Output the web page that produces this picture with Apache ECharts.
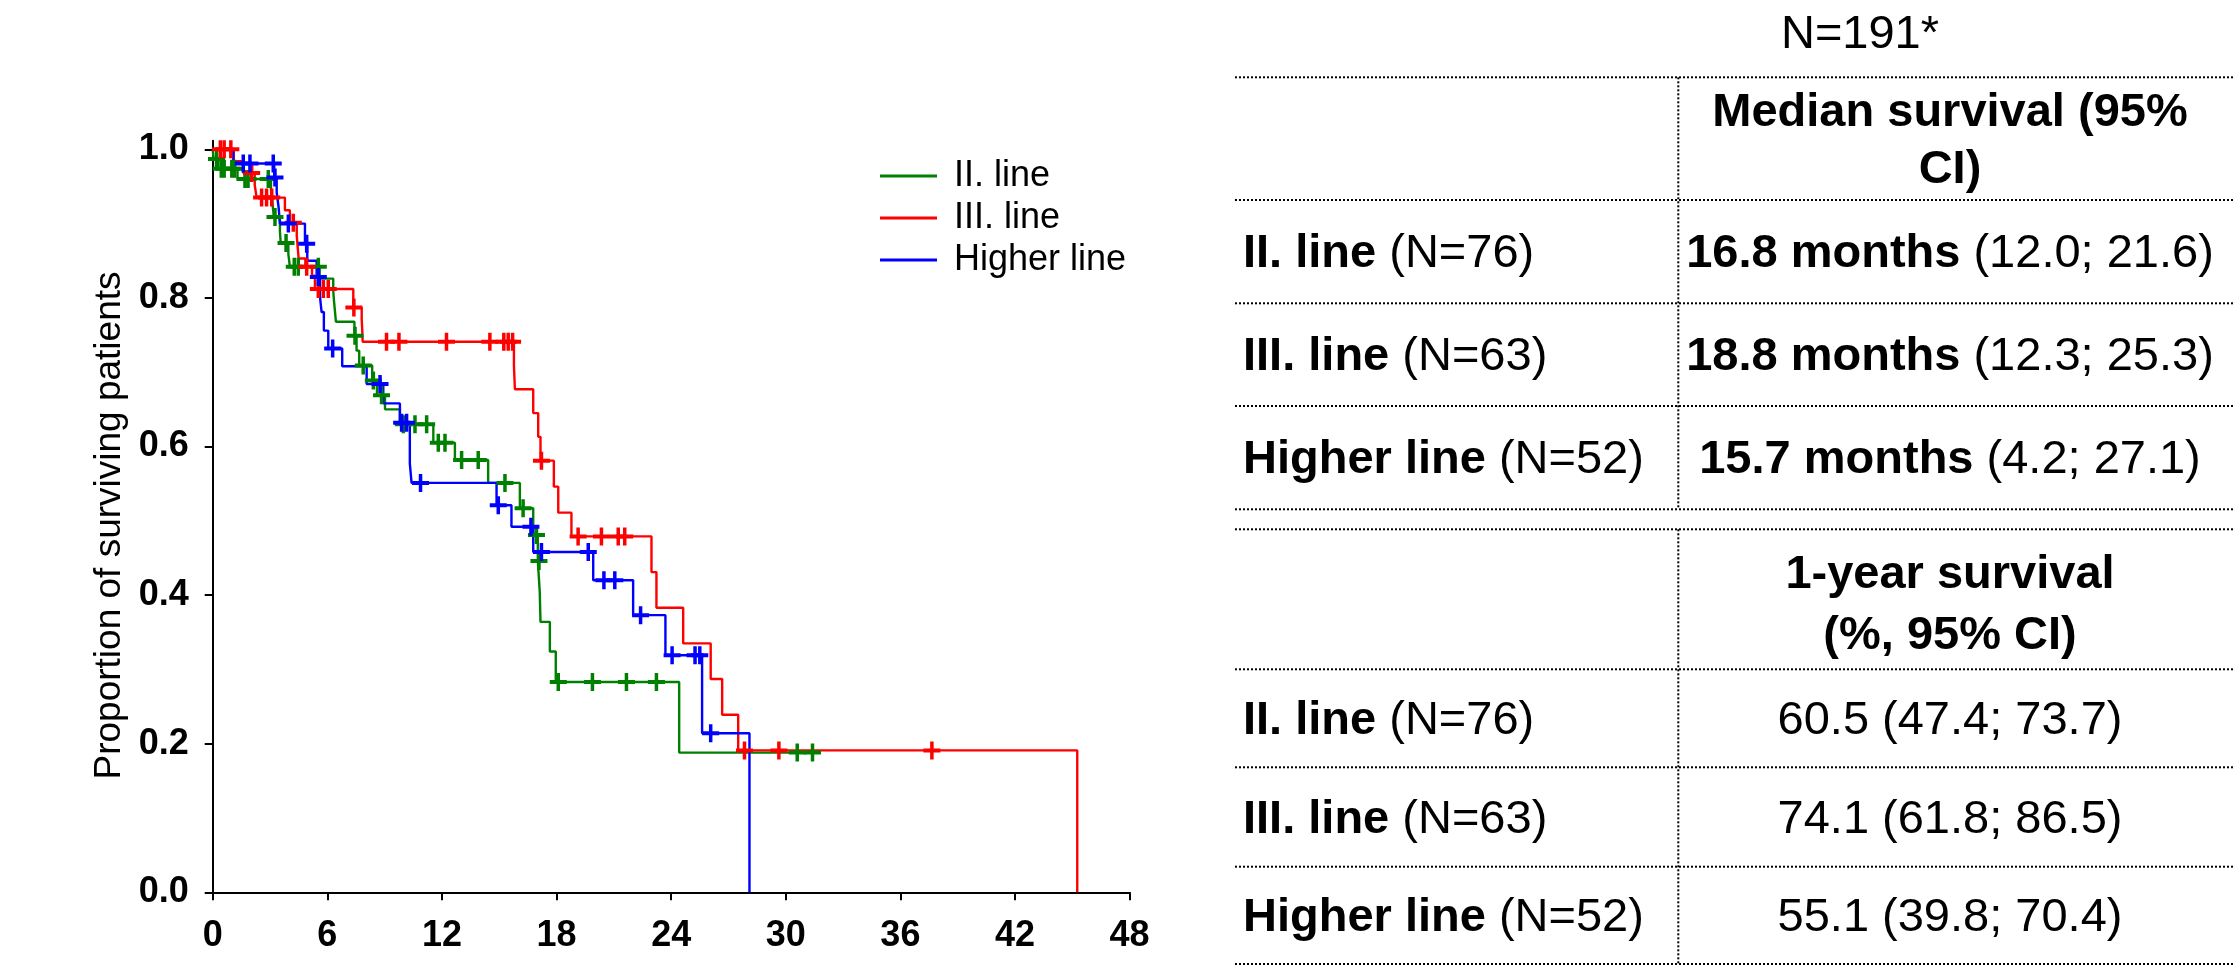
<!DOCTYPE html>
<html><head><meta charset="utf-8">
<script src="https://cdn.jsdelivr.net/npm/echarts@6/dist/echarts.min.js"></script>
<style>html,body{margin:0;padding:0;background:#fff}#c{width:2235px;height:980px}</style>
</head><body><div id="c"></div>
<script>
// ---------------- DATA ----------------
const seriesNames = ['II. line', 'III. line', 'Higher line'];
const yTickValues = [0, 0.2, 0.4, 0.6, 0.8, 1.0];

// Kaplan-Meier steps: [month, survival proportion from that month on]
const stepsII = [[0,1.0],[0.05,0.987],[0.3,0.974],[1.3,0.96],[3.05,0.946],[3.12,0.93],[3.2,0.909],[3.52,0.889],[3.56,0.874],[3.96,0.859],[4.04,0.842],[5.6,0.826],[6.31,0.81],[6.35,0.796],[6.4,0.782],[6.45,0.768],[7.42,0.749],[7.53,0.729],[7.67,0.709],[8.35,0.689],[8.6,0.669],[9.02,0.65],[9.8,0.63],[11.55,0.605],[12.68,0.582],[14.42,0.551],[16.08,0.517],[16.78,0.481],[17.02,0.446],[17.12,0.405],[17.16,0.364],[17.65,0.324],[17.96,0.283],[24.42,0.188],[31.7,0.188]];
const censII = [[0.2,0.987],[0.45,0.974],[0.6,0.974],[1.0,0.974],[1.15,0.974],[1.69,0.96],[1.85,0.96],[2.91,0.96],[3.26,0.909],[3.84,0.874],[4.27,0.842],[4.48,0.842],[5.53,0.842],[7.45,0.749],[7.88,0.709],[8.41,0.689],[8.84,0.669],[9.98,0.63],[10.59,0.63],[11.2,0.63],[11.81,0.605],[12.16,0.605],[13.03,0.582],[13.9,0.582],[15.3,0.551],[16.25,0.517],[16.95,0.481],[17.08,0.446],[18.09,0.283],[19.88,0.283],[21.66,0.283],[23.23,0.283],[30.6,0.188],[31.4,0.188]];

const stepsIII = [[0,1.0],[1.1,0.984],[1.6,0.968],[2.2,0.952],[2.3,0.935],[3.78,0.918],[4.04,0.901],[4.4,0.884],[4.45,0.868],[4.5,0.853],[4.85,0.842],[5.2,0.83],[5.35,0.812],[7.36,0.787],[7.8,0.771],[7.83,0.756],[7.85,0.741],[15.77,0.709],[15.82,0.677],[16.78,0.645],[17.04,0.613],[17.16,0.581],[17.86,0.546],[18.09,0.511],[18.78,0.479],[22.97,0.431],[23.23,0.383],[24.63,0.335],[26.07,0.287],[26.67,0.239],[27.51,0.191],[45.26,0]];
const censIII = [[0.4,1],[0.6,1],[0.95,1],[2.04,0.968],[2.56,0.935],[2.82,0.935],[3.09,0.935],[4.22,0.901],[4.92,0.842],[5.53,0.812],[5.79,0.812],[6.05,0.812],[7.39,0.787],[9.1,0.741],[9.75,0.741],[12.24,0.741],[14.51,0.741],[15.24,0.741],[15.47,0.741],[15.7,0.741],[17.21,0.581],[19.13,0.479],[20.35,0.479],[21.23,0.479],[21.57,0.479],[27.84,0.191],[29.64,0.191],[37.65,0.191]];

const stepsHigher = [[0,1.0],[1.08,0.981],[3.22,0.962],[3.35,0.942],[3.45,0.922],[3.52,0.9],[4.83,0.873],[4.95,0.85],[5.44,0.828],[5.61,0.803],[5.7,0.781],[5.82,0.756],[6.05,0.732],[6.78,0.708],[8.06,0.684],[8.93,0.658],[9.8,0.632],[10.32,0.577],[10.41,0.551],[14.86,0.521],[15.64,0.492],[16.78,0.458],[19.92,0.42],[22.01,0.373],[23.7,0.319],[25.62,0.214],[28.1,0]];
const censHigher = [[1.6,0.981],[1.95,0.981],[3.17,0.981],[3.26,0.962],[3.96,0.9],[4.92,0.873],[5.53,0.828],[6.28,0.732],[8.76,0.684],[9.89,0.632],[10.15,0.632],[10.88,0.551],[14.95,0.521],[16.66,0.492],[17.21,0.458],[19.66,0.458],[20.48,0.42],[21.05,0.42],[22.4,0.373],[24.05,0.319],[25.25,0.319],[25.5,0.319],[26.07,0.214]];

// Table
const tableTitle = 'N=191*';
const rowLabels = ['II. line', 'III. line', 'Higher line'];
const rowN = [76, 63, 52];
const medianHeader = ['Median survival (95%', 'CI)'];
const medianMonths = ['16.8', '18.8', '15.7'];
const medianCI = [['12.0', '21.6'], ['12.3', '25.3'], ['4.2', '27.1']];
const yearHeader = ['1-year survival', '(%, 95% CI)'];
const oneYear = ['60.5', '74.1', '55.1'];
const oneYearCI = [['47.4', '73.7'], ['61.8', '86.5'], ['39.8', '70.4']];

// ---------------- CHART ----------------
const FONT = "'Liberation Sans', Arial, Helvetica, sans-serif";
const colors = ['#008000', '#ff0000', '#0000ff'];
const plusPath = 'path://M-1.75,-9H1.75V-2H8.5V2H1.75V9H-1.75V2H-8.5V-2H-1.75Z';

const curveSets = [[stepsII, censII], [stepsIII, censIII], [stepsHigher, censHigher]];
const series = [];
curveSets.forEach(([st, ce], i) => {
  series.push({
    type: 'line', name: seriesNames[i], data: st, step: 'end',
    symbol: 'none', showSymbol: false, clip: false, z: 3,
    lineStyle: { color: colors[i], width: 2.4 }, itemStyle: { color: colors[i] },
    emphasis: { disabled: true }
  });
  series.push({
    type: 'scatter', name: seriesNames[i] + ' censored', data: ce,
    symbol: plusPath, symbolSize: [17, 18], clip: false, z: 4,
    itemStyle: { color: colors[i], opacity: 1 }, emphasis: { disabled: true }
  });
});

// Table graphics
const G = [];
const TL = 1235, TR = 2235, DIV = 1678.3, COLC = 1950, LX = 1243, FS = 47;
const t1 = [77.3, 200, 303.3, 406, 509.3];
const t2 = [529.3, 669.3, 767.3, 866.7, 964];
const dot = { stroke: '#000', lineWidth: 2, lineDash: [2, 2] };
function hline(y) { G.push({ type: 'line', silent: true, shape: { x1: TL, y1: y, x2: TR, y2: y }, style: Object.assign({}, dot) }); }
function vline(x, y1, y2) { G.push({ type: 'line', silent: true, shape: { x1: x, y1: y1, x2: x, y2: y2 }, style: Object.assign({}, dot) }); }
function txt(x, y, text, align, rich, bold) {
  const st = { text: text, x: x, y: y, fontSize: FS, fontFamily: FONT, fontWeight: bold ? 'bold' : 'normal', fill: '#000',
    align: align, verticalAlign: 'middle', textAlign: align, textVerticalAlign: 'middle' };
  if (rich) st.rich = rich;
  G.push({ type: 'text', silent: true, style: st });
}
const rich = {
  b: { fontSize: FS, fontFamily: FONT, fontWeight: 'bold', fill: '#000', color: '#000' },
  r: { fontSize: FS, fontFamily: FONT, fontWeight: 'normal', fill: '#000', color: '#000' }
};
t1.forEach(hline); t2.forEach(hline);
vline(DIV, t1[0], t1[4]); vline(DIV, t2[0], t2[4]);
txt(1860, 35, tableTitle, 'center', null, false);
txt(COLC, 113, medianHeader[0], 'center', null, true);
txt(COLC, 170, medianHeader[1], 'center', null, true);
txt(COLC, 575, yearHeader[0], 'center', null, true);
txt(COLC, 636, yearHeader[1], 'center', null, true);
for (let i = 0; i < 3; i++) {
  const yc1 = (t1[i + 1] + t1[i + 2]) / 2 + 2;
  const yc2 = (t2[i + 1] + t2[i + 2]) / 2 + 3;
  const lab = '{b|' + rowLabels[i] + ' }{r|(N=' + rowN[i] + ')}';
  txt(LX, yc1, lab, 'left', rich, false);
  txt(LX, yc2, lab, 'left', rich, false);
  txt(COLC, yc1, '{b|' + medianMonths[i] + ' months }{r|(' + medianCI[i][0] + '; ' + medianCI[i][1] + ')}', 'center', rich, false);
  txt(COLC, yc2, oneYear[i] + ' (' + oneYearCI[i][0] + '; ' + oneYearCI[i][1] + ')', 'center', null, false);
}

const chart = echarts.init(document.getElementById('c'), null, { renderer: 'canvas', width: 2235, height: 980 });
chart.setOption({
  animation: false,
  backgroundColor: '#fff',
  textStyle: { fontFamily: FONT },
  grid: { left: 212.7, top: 140.7, width: 916.9, height: 751.6, containLabel: false },
  legend: {
    data: seriesNames, orient: 'vertical', left: 875, top: 153,
    icon: 'path://M0,0H57V3H0Z', itemWidth: 57, itemHeight: 3, itemGap: 6, selectedMode: false,
    textStyle: { fontSize: 36, fontFamily: FONT, color: '#000', padding: [0, 0, 0, 12] }
  },
  xAxis: {
    type: 'value', min: 0, max: 48, interval: 6,
    axisLine: { show: true, onZero: false, lineStyle: { color: '#000', width: 2 } },
    axisTick: { show: true, inside: false, length: 8, lineStyle: { color: '#000', width: 2 } },
    axisLabel: { fontSize: 36, fontWeight: 'bold', color: '#000', fontFamily: FONT, margin: 26 },
    splitLine: { show: false }
  },
  yAxis: {
    type: 'value', min: 0, max: 1.0116,
    name: 'Proportion of surviving patients', nameLocation: 'middle', nameGap: 84,
    nameTextStyle: { fontSize: 37, color: '#000', fontFamily: FONT, padding: [0, 18, 0, 0] },
    axisLine: { show: true, onZero: false, lineStyle: { color: '#000', width: 2 } },
    axisTick: { show: true, inside: false, length: 8, customValues: yTickValues, lineStyle: { color: '#000', width: 2 } },
    axisLabel: { fontSize: 36, fontWeight: 'bold', color: '#000', fontFamily: FONT, margin: 24,
      customValues: yTickValues, formatter: v => v.toFixed(1) },
    splitLine: { show: false }
  },
  series: series,
  graphic: { elements: G }
});
</script></body></html>
